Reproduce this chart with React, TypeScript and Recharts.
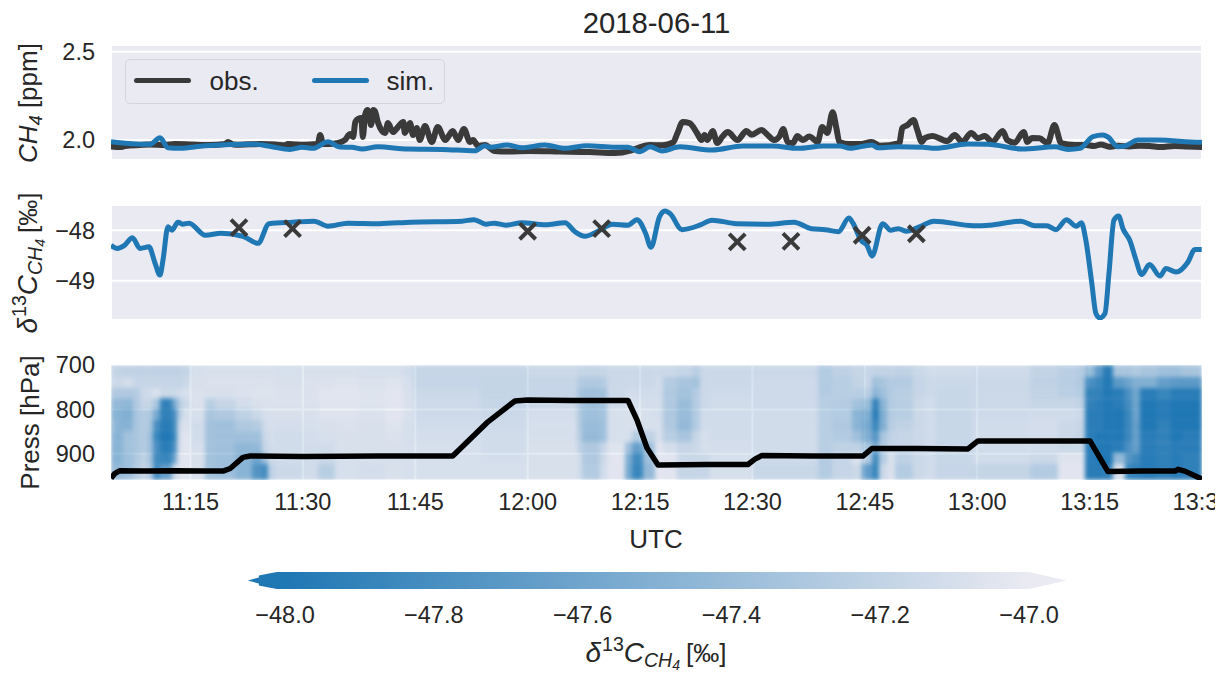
import React from "react";
import {
  ComposedChart, Line, Scatter, XAxis, YAxis, CartesianGrid, Legend, ReferenceArea,
} from "recharts";

const FONT = "'Liberation Sans', Arial, sans-serif";
const INK = "#262626";
const DARK = "#3a3a3a";
const BLUE = "#1f77b4";
const PANEL = "#eaeaf2";

const title = "2018-06-11";
const timeTicks = [15, 30, 45, 60, 75, 90, 105, 120, 135, 150];
const timeDomain = [4.39, 150];
const ch4Ticks = [2.0, 2.5];
const deltaTicks = [-49, -48];
const pressTicks = [700, 800, 900];
const colorbarTicks = [-48, -47.8, -47.6, -47.4, -47.2, -47];

const obsTime = [4.39,5.6,6.26,8.26,9.6,11.6,12.9,14.9,17.6,19.6,20,20.7,21.6,24.3,26.3,27.6,28,29,30.3,31.8,32,32.3,32.7,33.5,34.7,35.6,36.3,36.7,37,37.4,37.8,38,38.3,38.6,38.8,39.1,39.4,39.6,40,40.96,41.36,42,42.7,43.4,43.6,44.3,44.7,45.2,45.6,46.3,47.2,48,49,50,50.7,51.5,52.3,52.7,53.4,54.3,55.6,57.4,60.3,64.3,68.3,71.6,73.7,74.7,76.3,78,79.4,80,80.7,81.6,82.6,83.2,83.6,84,84.7,85.3,86,86.7,88,89.2,89.9,91.2,92,92.9,93.6,94.1,94.7,95.4,96,96.7,97.6,98.7,99.3,100,100.7,101.2,101.6,103,104.3,105.9,107,109.6,110,110.7,111.5,112,112.6,113,114,116,117,118,119.2,120.1,121,122,123.4,124,125,126.2,126.7,127.3,128.3,129.4,130.3,131.2,133,134.5,135.6,136.5,137.6,138.8,140.3,141.7,143,144.5,146.3,148,150];
const obsPpm = [1.963,1.96,1.966,1.972,1.975,1.972,1.977,1.975,1.972,1.977,1.989,1.975,1.974,1.977,1.975,1.97,1.978,1.975,1.973,1.977,1.98,2.028,1.978,1.977,1.983,2,2.034,2.017,2.102,2.12,2.125,2.017,2.142,2.17,2.158,2.085,2.17,2.165,2.102,2.04,2.096,2.045,2.074,2.102,2.04,2.096,2.028,2.068,2,2.079,1.989,2.074,2,2.051,2,2.062,1.989,2,1.966,1.972,1.938,1.935,1.938,1.935,1.932,1.926,1.94,1.955,1.972,1.97,1.986,2.04,2.102,2.096,2.04,2,2.028,2,2.051,1.983,2.02,2.045,2,2.051,2.03,2.057,2.03,2,2.02,2.062,1.989,1.983,2.023,2,2.02,1.989,2.074,2.04,2.158,2.068,1.989,1.977,1.977,1.989,1.968,1.983,2.068,2.085,2.113,2.057,1.989,2.011,2.023,1.994,2.028,1.989,2.04,2.01,2.023,1.989,2.051,2,1.985,2.045,1.989,2.011,2.01,1.983,2.085,1.983,1.972,1.972,1.966,1.975,1.962,1.968,1.963,1.968,1.966,1.96,1.966,1.963,1.96];

const simTime = [4.39,7.19,9.6,10.93,12,13.6,16.94,23.6,25.88,28.28,29.88,31.35,33.35,34.95,36.55,37.89,40.02,44.03,48.57,52.97,54.3,54.97,57.24,59.24,62.31,64.98,67.92,71.66,73.39,74.99,76.33,77.93,80.33,84.6,88.74,92.74,96.08,99.42,101.69,103.02,105.96,106.76,109.43,112.76,114.36,118.76,121.43,125.97,130.38,132.12,133.72,135.45,136.78,137.45,138.79,139.72,141.46,144.13,149.74,150];
const simPpm = [1.99,1.979,1.976,2.013,1.956,1.953,1.968,1.976,1.962,1.947,1.959,1.953,1.99,1.96,1.959,1.949,1.962,1.949,1.947,1.939,1.968,1.959,1.972,1.956,1.972,1.953,1.968,1.959,1.959,1.934,1.962,1.938,1.962,1.943,1.966,1.966,1.953,1.966,1.966,1.953,1.972,1.956,1.962,1.959,1.953,1.977,1.976,1.949,1.962,1.947,1.953,2.019,2.028,2.017,1.962,1.966,2,2,1.987,1.987];

const deltaTime = [4.39,5.19,6.19,7.25,8.26,9.46,10.26,10.93,11.33,12,12.53,13.33,13.94,14.8,17,19.07,22,24.01,25.48,28.62,31.48,33.35,36.02,40.16,44.43,51.24,52.84,54.44,55.51,57.11,59.24,62.38,64.98,66.32,67.65,69.25,71.33,73.39,74.59,75.74,76.46,77.58,78.33,79,80.6,83.13,84.6,87.87,92.07,95.54,97.89,99.73,101.48,102.88,103.42,104.48,105.29,105.96,107.38,108.44,109.49,110.55,112.36,114.23,119.5,121.62,125.84,127.71,129.28,130.51,131.91,133.23,133.9,134.5,135.3,135.84,136.37,137.05,137.58,138.25,138.88,139.45,140.39,141.19,141.94,143,144.39,145.19,146.53,148.13,149.06,149.96];
const deltaSim = [-48.3,-48.36,-48.3,-48.15,-48.36,-48.33,-48.65,-48.89,-48.59,-47.93,-48,-47.84,-47.88,-47.86,-48.1,-48.06,-48.12,-48.26,-47.87,-47.84,-47.82,-47.92,-47.86,-47.87,-47.84,-47.82,-47.79,-47.88,-47.86,-47.9,-47.85,-47.89,-47.85,-48.03,-48.12,-48.03,-47.88,-47.9,-47.79,-48.06,-48.34,-47.74,-47.62,-47.67,-47.99,-47.89,-47.8,-47.87,-47.88,-47.84,-47.97,-47.99,-48.03,-47.76,-47.86,-48.2,-48.3,-48.51,-47.87,-48,-47.97,-48.02,-47.93,-47.82,-47.91,-47.9,-47.82,-47.91,-47.91,-47.99,-47.79,-47.92,-47.85,-48.2,-49.06,-49.65,-49.74,-49.65,-48.86,-47.8,-47.72,-47.97,-48.21,-48.59,-48.88,-48.68,-48.91,-48.76,-48.83,-48.63,-48.38,-48.38];

const sampleTime = [21.47,28.62,60,69.87,87.97,95.14,104.64,111.88];
const sampleDelta = [-47.95,-47.97,-48.02,-47.97,-48.23,-48.22,-48.1,-48.07];

const flightTime = [4.39,4.92,5.59,9,13,17,19.34,20.3,22,22.94,30,40,50,54.7,58.3,60,66,73.39,74.6,75.93,77.4,77.66,84,89.4,90.33,91.27,98,104.75,105.96,112,118.76,120.1,128,135.05,137.45,142,146.4,146.8,147.7,150];
const flightPress = [955,944,938,939,938,939,939,933,908,905,906,905,905,828,781,779,780,780,824,887,925,925,924,924,912,904,905,905,888,888,889,871,871,871,940,939,939,935,939,957];

const heatEdges = [4.39,5.19,5.99,7.33,8.26,9.19,9.99,10.93,12.53,13.2,13.87,14.93,16.94,18.27,20.94,23.21,24.54,25.34,26.28,29.88,32.02,34.29,37.36,40.96,43.36,44.7,53.64,59.91,66.58,67.25,69.65,70.59,72.99,73.92,75.39,76.99,78.06,79.93,81.93,83,84.33,89.94,98.75,100.62,103.29,104.62,105.96,106.89,107.96,109.02,111.42,113.03,114.36,119.43,127.04,130.78,133.31,134.38,135.71,136.78,138.11,139.71,140.65,141.72,143.99,145.72,147.33,150];
const heatLevels = [700,727,752,775,799,824,849,874,898,923,959];
const heatColumns = [
[-47.13,-47.1,-47.22,-47.35,-47.4,-47.35,-47.4,-47.4,-47.4,-47.35],
[-47.14,-47.1,-47.22,-47.35,-47.42,-47.42,-47.42,-47.4,-47.4,-47.35],
[-47.15,-47.07,-47.22,-47.38,-47.45,-47.42,-47.28,-47.28,-47.3,-47.3],
[-47.15,-47.12,-47.2,-47.22,-47.25,-47.25,-47.25,-47.25,-47.22,-47.2],
[-47.15,-47.12,-47.1,-47.12,-47.2,-47.2,-47.2,-47.2,-47.15,-47.12],
[-47.15,-47.12,-47.08,-47.12,-47.22,-47.25,-47.3,-47.3,-47.25,-47.2],
[-47.15,-47.12,-47.05,-47.25,-47.5,-47.75,-47.85,-47.75,-47.8,-47.8],
[-47.15,-47.12,-47.1,-47.9,-47.9,-47.95,-48,-47.95,-47.85,-47.6],
[-47.15,-47.12,-47.1,-47.5,-47.75,-47.8,-47.85,-47.75,-47.55,-47.1],
[-47.15,-47.13,-47.08,-47.2,-47.2,-47.1,-47.08,-47.06,-47.04,-47.03],
[-47.13,-47.1,-47.06,-47.1,-47.06,-47.04,-47.02,-47.02,-47.02,-47.02],
[-47.06,-47.05,-47.04,-47.04,-47.06,-47.08,-47.08,-47.06,-47.05,-47.05],
[-47.05,-47.04,-47.05,-47.18,-47.25,-47.28,-47.28,-47.28,-47.28,-47.28],
[-47.05,-47.04,-47.05,-47.12,-47.22,-47.3,-47.3,-47.3,-47.3,-47.3],
[-47.05,-47.04,-47.04,-47.07,-47.15,-47.22,-47.3,-47.38,-47.4,-47.4],
[-47.05,-47.04,-47.03,-47.05,-47.1,-47.2,-47.3,-47.35,-47.55,-47.7],
[-47.05,-47.04,-47.03,-47.04,-47.06,-47.08,-47.1,-47.12,-47.3,-47.8],
[-47.05,-47.04,-47.03,-47.04,-47.05,-47.06,-47.07,-47.08,-47.1,-47.15],
[-47.06,-47.05,-47.04,-47.04,-47.05,-47.07,-47.08,-47.08,-47.08,-47.1],
[-47.05,-47.04,-47.04,-47.04,-47.05,-47.06,-47.07,-47.08,-47.08,-47.08],
[-47.05,-47.04,-47.02,-47.03,-47.03,-47.05,-47.06,-47.08,-47.1,-47.18],
[-47.05,-47.03,-47.02,-47.03,-47.03,-47.04,-47.05,-47.05,-47.06,-47.06],
[-47.06,-47.04,-47.03,-47.03,-47.04,-47.05,-47.05,-47.05,-47.06,-47.07],
[-47.06,-47.03,-47.02,-47.02,-47.02,-47.03,-47.04,-47.05,-47.06,-47.05],
[-47.08,-47.06,-47.05,-47.05,-47.05,-47.06,-47.06,-47.06,-47.06,-47.06],
[-47.12,-47.12,-47.1,-47.09,-47.09,-47.08,-47.07,-47.06,-47.06,-47.06],
[-47.12,-47.13,-47.13,-47.12,-47.1,-47.09,-47.08,-47.08,-47.07,-47.06],
[-47.1,-47.12,-47.12,-47.1,-47.07,-47.06,-47.06,-47.05,-47.05,-47.05],
[-47.12,-47.2,-47.25,-47.22,-47.2,-47.2,-47.18,-47.15,-47.08,-47.08],
[-47.13,-47.22,-47.3,-47.3,-47.3,-47.33,-47.35,-47.22,-47.22,-47.2],
[-47.12,-47.2,-47.28,-47.27,-47.27,-47.3,-47.3,-47.12,-47.1,-47.08],
[-47.1,-47.1,-47.1,-47.08,-47.06,-47.06,-47.06,-47.03,-47.02,-47.02],
[-47.1,-47.1,-47.08,-47.06,-47.05,-47.05,-47.06,-47.3,-47.45,-47.5],
[-47.1,-47.1,-47.08,-47.06,-47.05,-47.06,-47.2,-47.6,-47.8,-47.85],
[-47.1,-47.1,-47.08,-47.07,-47.06,-47.06,-47.15,-47.3,-47.3,-47.35],
[-47.1,-47.08,-47.08,-47.07,-47.07,-47.06,-47.06,-47.02,-47.02,-47.02],
[-47.1,-47.2,-47.22,-47.22,-47.22,-47.22,-47.18,-47.07,-47.02,-47.02],
[-47.12,-47.25,-47.28,-47.32,-47.33,-47.35,-47.25,-47.12,-47.1,-47.13],
[-47.18,-47.27,-47.2,-47.2,-47.2,-47.2,-47.12,-47.1,-47.1,-47.12],
[-47.1,-47.1,-47.1,-47.1,-47.08,-47.08,-47.06,-47.06,-47.1,-47.12],
[-47.1,-47.1,-47.09,-47.08,-47.08,-47.08,-47.08,-47.07,-47.06,-47.06],
[-47.1,-47.09,-47.09,-47.09,-47.08,-47.08,-47.08,-47.08,-47.09,-47.11],
[-47.2,-47.2,-47.2,-47.18,-47.18,-47.18,-47.18,-47.18,-47.2,-47.2],
[-47.15,-47.18,-47.18,-47.2,-47.2,-47.22,-47.2,-47.15,-47.12,-47.12],
[-47.12,-47.14,-47.18,-47.28,-47.4,-47.4,-47.3,-47.15,-47.04,-47.1],
[-47.12,-47.12,-47.18,-47.32,-47.45,-47.5,-47.45,-47.25,-47.2,-47.6],
[-47.14,-47.3,-47.4,-47.9,-47.95,-47.85,-47.7,-47.5,-47.8,-47.85],
[-47.14,-47.25,-47.3,-47.4,-47.45,-47.45,-47.25,-47.2,-47.2,-47.1],
[-47.14,-47.2,-47.2,-47.2,-47.2,-47.18,-47.15,-47.12,-47.05,-47.04],
[-47.15,-47.2,-47.18,-47.18,-47.18,-47.15,-47.12,-47.12,-47.15,-47.2],
[-47.1,-47.12,-47.12,-47.1,-47.1,-47.1,-47.1,-47.1,-47.1,-47.1],
[-47.08,-47.1,-47.1,-47.08,-47.08,-47.08,-47.08,-47.08,-47.08,-47.08],
[-47.08,-47.1,-47.11,-47.11,-47.11,-47.11,-47.11,-47.11,-47.11,-47.12],
[-47.09,-47.1,-47.1,-47.1,-47.09,-47.08,-47.08,-47.08,-47.08,-47.13],
[-47.14,-47.15,-47.14,-47.12,-47.08,-47.07,-47.07,-47.08,-47.1,-47.2],
[-47.17,-47.18,-47.17,-47.12,-47.08,-47.1,-47.1,-47.1,-47.03,-47.02],
[-47.2,-47.22,-47.2,-47.15,-47.1,-47.12,-47.13,-47.1,-47.03,-47.02],
[-47.35,-47.75,-47.9,-47.9,-47.95,-47.95,-47.95,-47.95,-47.95,-47.95],
[-47.65,-47.85,-47.9,-47.95,-47.95,-47.95,-48,-48,-48,-47.95],
[-47.95,-47.98,-48,-48,-48,-48,-48,-48,-48,-47.9],
[-47.25,-47.65,-47.95,-47.95,-48,-48,-48,-47.95,-47.35,-47.05],
[-47.25,-47.55,-47.75,-47.8,-47.85,-47.85,-47.85,-47.75,-47.7,-47.85],
[-47.22,-47.45,-47.55,-47.55,-47.55,-47.6,-47.6,-47.6,-47.8,-47.9],
[-47.25,-47.45,-47.95,-48,-48,-48,-47.95,-47.95,-47.95,-47.95],
[-47.3,-47.6,-47.85,-47.95,-47.95,-47.9,-47.9,-47.9,-47.9,-47.9],
[-47.3,-47.65,-47.95,-48,-48,-48,-48,-47.95,-47.95,-47.95],
[-47.25,-47.65,-47.95,-48,-48,-48,-47.95,-47.95,-47.9,-47.9],
];

const obsData = obsTime.map((t, i) => ({ t, v: obsPpm[i] }));
const simData = simTime.map((t, i) => ({ t, v: simPpm[i] }));
const deltaData = deltaTime.map((t, i) => ({ t, v: deltaSim[i] }));
const sampleData = sampleTime.map((t, i) => ({ t, v: sampleDelta[i] }));
const flightData = flightTime.map((t, i) => ({ t, v: flightPress[i] }));

const fmtTime = (m: number) => {
  const h = 11 + Math.floor(m / 60);
  const mm = m % 60;
  return `${h}:${String(mm).padStart(2, "0")}`;
};
const fmtMinus = (v: number, d: number) => v.toFixed(d).replace("-", "\u2212");

const mix = (i: number) => {
  const a = [234, 234, 242], b = [31, 119, 180];
  const c = a.map((x, k) => Math.round(x + (b[k] - x) * i));
  return `rgb(${c[0]},${c[1]},${c[2]})`;
};

const WIDTH = 1215;
const LEFT = 111;
const RIGHT = 13;
const tickStyle = { fill: INK, fontSize: 23.5, fontFamily: FONT };

const abs = (top: number, z: number): React.CSSProperties => ({ position: "absolute", left: 0, top, zIndex: z });

const RotLabel = ({ x, y, children, size = 26 }: any) => (
  <text x={x} y={y} transform={`rotate(-90 ${x} ${y})`} textAnchor="middle" fill={INK} fontFamily={FONT} fontSize={size}>
    {children}
  </text>
);

const DeltaText = () => (
  <>
    <tspan fontStyle="italic" fontSize={28}>δ</tspan>
    <tspan fontSize={19.5} dy={-11} dx={1}>13</tspan>
    <tspan fontStyle="italic" fontSize={28} dy={11}>C</tspan>
    <tspan fontStyle="italic" fontSize={19.5} dy={5}>CH</tspan>
    <tspan fontStyle="italic" fontSize={14} dy={3}>4</tspan>
    <tspan dy={-8} dx={6}>[‰]</tspan>
  </>
);

const Ch4Label = () => (
  <RotLabel x={37} y={103}>
    <tspan fontStyle="italic">CH</tspan>
    <tspan fontStyle="italic" fontSize={18} dy={5}>4</tspan>
    <tspan dy={-5}> [ppm]</tspan>
  </RotLabel>
);
const DeltaLabel = () => (
  <RotLabel x={37} y={98}>
    <DeltaText />
  </RotLabel>
);
const PressLabel = () => <RotLabel x={39} y={92.5}>Press [hPa]</RotLabel>;

const UtcLabel = () => (
  <text x={656} y={218} textAnchor="middle" fill={INK} fontFamily={FONT} fontSize={26}>UTC</text>
);
const CbLabel = () => (
  <text x={656} y={102} textAnchor="middle" fill={INK} fontFamily={FONT} fontSize={26}>
    <DeltaText />
  </text>
);

const LegendBox = ({ payload }: any) => (
  <div style={{
    width: 320, height: 45, boxSizing: "border-box", border: "1px solid #d5d5dc", borderRadius: 5,
    background: "rgba(234,234,242,0.8)", position: "relative", fontFamily: FONT, fontSize: 26, color: INK,
  }}>
    {(payload || []).map((e: any, i: number) => (
      <React.Fragment key={i}>
        <div style={{ position: "absolute", left: 8 + i * 178, top: 18, width: 57, height: 5, background: e.color, borderRadius: 2.5 }} />
        <div style={{ position: "absolute", left: 84 + i * 177, top: 6, lineHeight: "30px" }}>{e.value}</div>
      </React.Fragment>
    ))}
  </div>
);

const Cross = (p: any) => {
  const r = 8;
  return (
    <path d={`M${p.cx - r} ${p.cy - r}L${p.cx + r} ${p.cy + r}M${p.cx - r} ${p.cy + r}L${p.cx + r} ${p.cy - r}`}
      stroke={DARK} strokeWidth={4} fill="none" />
  );
};

const ColorbarShape = (p: any) => {
  const { x, y, width, height } = p;
  const mid = y + height / 2;
  const lead = 29, tail = 37.5;
  const d = `M${x - lead} ${mid}L${x - 18} ${mid - 3}L${x - 18} ${mid - 5}L${x - 8} ${mid - 7}L${x} ${y}L${x + width} ${y}L${x + width + tail} ${mid}L${x + width} ${y + height}L${x} ${y + height}L${x - 8} ${mid + 7}L${x - 18} ${mid + 5}L${x - 18} ${mid + 3}Z`;
  return (
    <g>
      <defs>
        <linearGradient id="cbGrad" x1="0" x2="1" y1="0" y2="0">
          <stop offset="0.045" stopColor={BLUE} />
          <stop offset="0.954" stopColor={PANEL} />
        </linearGradient>
      </defs>
      <path d={d} fill="url(#cbGrad)" />
    </g>
  );
};

export default function App() {
  const pressDomain = [700, 959];
  return (
    <div style={{ position: "fixed", left: 0, top: 0, width: WIDTH, height: 673, overflow: "hidden", background: "#fff" }}>
      <div style={{ position: "absolute", left: 0, width: 1313, textAlign: "center", top: 5, fontFamily: FONT, fontSize: 29.3, color: INK, lineHeight: "36px" }}>
        {title}
      </div>

      <div style={abs(0, 1)}>
        <ComposedChart width={WIDTH} height={170} margin={{ top: 45, bottom: 10, left: 0, right: RIGHT }}>
          <CartesianGrid stroke="#fff" strokeWidth={2} fill={PANEL} fillOpacity={1} />
          <XAxis type="number" dataKey="t" domain={timeDomain} ticks={timeTicks} height={0} tick={false} axisLine={false} tickLine={false} allowDataOverflow interval={0} />
          <YAxis type="number" width={LEFT} domain={[1.887, 2.538]} ticks={ch4Ticks} allowDataOverflow axisLine={false} tickLine={false} tickSize={0} tickMargin={16} tick={tickStyle} tickFormatter={(v: number) => v.toFixed(1)} label={<Ch4Label />} />
          <Legend layout="horizontal" verticalAlign="middle" align="center" content={<LegendBox />} wrapperStyle={{ position: "absolute", left: 124.5, top: 59, width: 320, height: 45, margin: 0, padding: 0 }} />
          <Line data={obsData} dataKey="v" name="obs." type="monotone" stroke={DARK} strokeWidth={6} strokeLinejoin="round" strokeLinecap="round" dot={false} isAnimationActive={false} />
          <Line data={simData} dataKey="v" name="sim." type="monotone" stroke={BLUE} strokeWidth={5} strokeLinejoin="round" dot={false} isAnimationActive={false} />
        </ComposedChart>
      </div>

      <div style={abs(165, 2)}>
        <ComposedChart width={WIDTH} height={175} margin={{ top: 40, bottom: 20, left: 0, right: RIGHT }}>
          <CartesianGrid stroke="#fff" strokeWidth={2} fill={PANEL} fillOpacity={1} />
          <XAxis type="number" dataKey="t" domain={timeDomain} ticks={timeTicks} height={0} tick={false} axisLine={false} tickLine={false} allowDataOverflow interval={0} />
          <YAxis type="number" width={LEFT} domain={[-49.78, -47.5]} ticks={deltaTicks} allowDataOverflow axisLine={false} tickLine={false} tickSize={0} tickMargin={16} tick={tickStyle} tickFormatter={(v: number) => fmtMinus(v, 0)} label={<DeltaLabel />} />
          <Scatter data={sampleData} dataKey="v" shape={<Cross />} isAnimationActive={false} />
          <Line data={deltaData} dataKey="v" name="sim." type="monotone" stroke={BLUE} strokeWidth={5} strokeLinejoin="round" dot={false} isAnimationActive={false} />
        </ComposedChart>
      </div>

      <div style={abs(330, 3)}>
        <ComposedChart width={WIDTH} height={225} margin={{ top: 35, bottom: 0, left: 0, right: RIGHT }}>
          <CartesianGrid stroke="#fff" strokeWidth={2} fill={PANEL} fillOpacity={1} />
          <XAxis type="number" dataKey="t" domain={timeDomain} ticks={timeTicks} height={75} interval={0} allowDataOverflow axisLine={false} tickLine={false} tickSize={0} tickMargin={13} tick={tickStyle} tickFormatter={fmtTime} label={<UtcLabel />} />
          <YAxis type="number" width={LEFT} domain={pressDomain} reversed ticks={pressTicks} allowDataOverflow axisLine={false} tickLine={false} tickSize={0} tickMargin={16} tick={tickStyle} label={<PressLabel />} />
        </ComposedChart>
      </div>

      <div style={{ position: "absolute", left: LEFT, top: 365, width: WIDTH - LEFT - RIGHT, height: 115, overflow: "hidden", zIndex: 4 }}>
        <div style={{ filter: "blur(2px)" }}>
          <ComposedChart width={WIDTH - LEFT - RIGHT} height={115} margin={{ top: 0, bottom: 0, left: 0, right: 0 }}>
            <XAxis type="number" dataKey="t" domain={timeDomain} hide allowDataOverflow />
            <YAxis type="number" domain={pressDomain} reversed hide allowDataOverflow />
            {heatColumns.flatMap((col, c) =>
              col.map((v, r) => {
                const raw = Math.min(1, Math.max(0, -47 - v));
                const ie = Math.pow(raw, 0.82);
                const a = 0.45 + 0.55 * ie;
                return (
                  <ReferenceArea key={`${c}-${r}`} x1={heatEdges[c]} x2={heatEdges[c + 1]} y1={heatLevels[r]} y2={heatLevels[r + 1]}
                    fill={mix(ie / a)} fillOpacity={a} stroke="none" ifOverflow="visible" />
                );
              })
            )}
          </ComposedChart>
        </div>
      </div>

      <div style={abs(330, 5)}>
        <ComposedChart width={WIDTH} height={155} margin={{ top: 35, bottom: 5, left: 0, right: RIGHT }}>
          <XAxis type="number" dataKey="t" domain={timeDomain} height={0} tick={false} axisLine={false} tickLine={false} allowDataOverflow />
          <YAxis type="number" width={LEFT} domain={pressDomain} reversed tick={false} axisLine={false} tickLine={false} allowDataOverflow />
          <Line data={flightData} dataKey="v" name="Press" stroke="#000" strokeWidth={5.5} strokeLinejoin="round" dot={false} isAnimationActive={false} />
        </ComposedChart>
      </div>

      <div style={abs(560, 6)}>
        <ComposedChart width={WIDTH} height={113} margin={{ top: 12, bottom: 0, left: 0, right: 0 }}>
          <XAxis type="number" dataKey="t" domain={[-48.3831, -46.75]} ticks={colorbarTicks} height={84} interval={0} allowDataOverflow axisLine={false} tickLine={false} tickSize={0} tickMargin={17} tick={tickStyle} tickFormatter={(v: number) => fmtMinus(v, 1)} label={<CbLabel />} />
          <YAxis type="number" width={0} domain={[0, 1]} tick={false} axisLine={false} tickLine={false} allowDataOverflow />
          <ReferenceArea x1={-48.011} x2={-47} y1={0} y2={1} shape={<ColorbarShape />} ifOverflow="visible" />
        </ComposedChart>
      </div>
    </div>
  );
}
